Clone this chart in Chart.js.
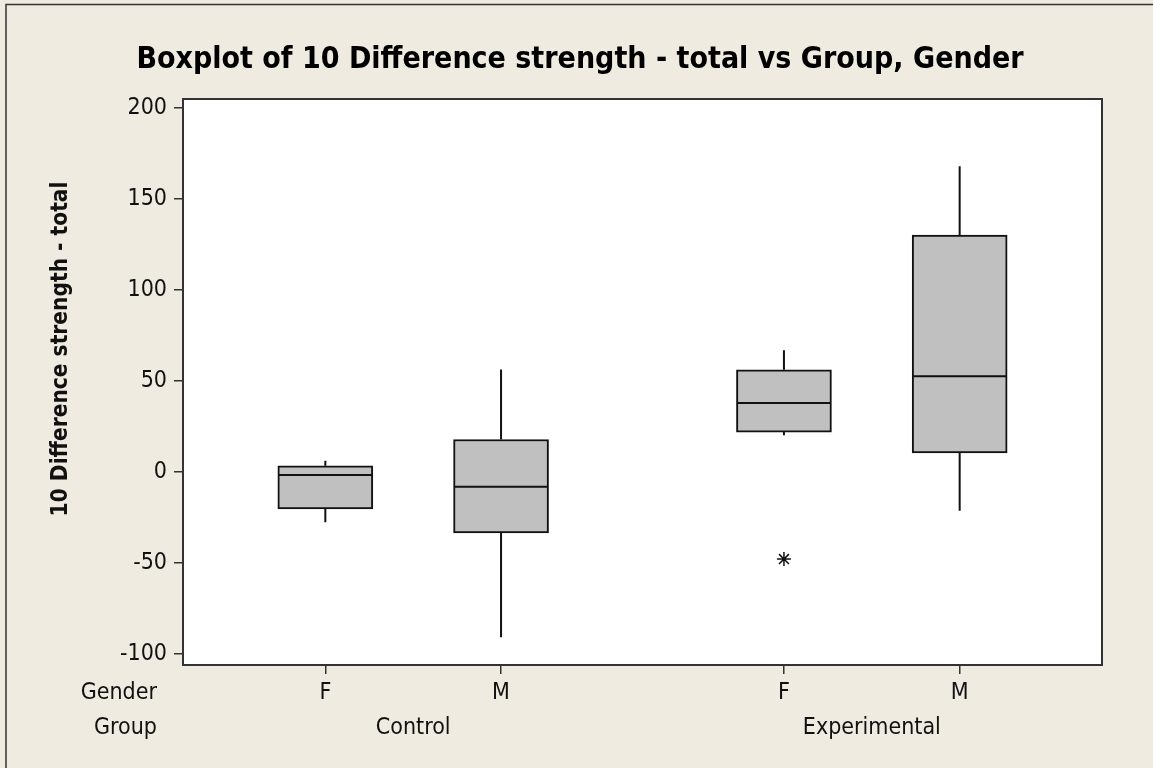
<!DOCTYPE html>
<html>
<head>
<meta charset="utf-8">
<script src="https://cdn.jsdelivr.net/npm/chart.js@4"></script>
<style>
  body { margin: 0; background: #EFEBE1; }
</style>
</head>
<body>
<canvas id="myChart" width="1153" height="768"></canvas>
<script>
// boxplot data
var groups = ['Control', 'Experimental'];
var genders = ['F', 'M'];
var q1 = [-20.2, -33.4, 22.0, 10.6];
var median = [-1.6, -8.1, 37.9, 52.7];
var q3 = [3.5, 17.9, 56.2, 130.2];
var whiskerLow = [-27.5, -90.8, 20.2, -21.3];
var whiskerHigh = [6.2, 56.4, 67.0, 168.1];
var outlierBox = [2];
var outlierValue = [-47.8];
var yTicks = [-100, -50, 0, 50, 100, 150, 200];

var FONT = "'DejaVu Sans Condensed', 'DejaVu Sans', sans-serif";
var INK = '#111';
var groupStep = 2.61;

// x position of box i (gender inside group)
function boxX(i) {
    return 1 + (i % 2) + Math.floor(i / 2) * groupStep;
}
var boxPos = q1.map(function (v, i) { return boxX(i); });
var groupPos = groups.map(function (g, k) { return (boxX(2 * k) + boxX(2 * k + 1)) / 2; });

var boxes = boxPos.map(function (x, i) { return { x: x, y: [q1[i], q3[i]] }; });
var medians = boxPos.map(function (x, i) { return { x: x, y: median[i] }; });
var whiskers = [];
boxPos.forEach(function (x, i) {
    whiskers.push({ x: x, y: q3[i] }, { x: x, y: whiskerHigh[i] }, { x: x, y: null });
    whiskers.push({ x: x, y: q1[i] }, { x: x, y: whiskerLow[i] }, { x: x, y: null });
});
var outliers = outlierBox.map(function (b, i) { return { x: boxPos[b], y: outlierValue[i] }; });

var frame = {
    id: 'frame',
    beforeDraw: function (chart) {
        var c = chart.ctx, a = chart.chartArea;
        c.save();
        c.fillStyle = '#EFEBE1';
        c.fillRect(0, 0, chart.width, chart.height);
        c.strokeStyle = '#333';
        c.lineWidth = 1.5;
        c.beginPath();
        c.moveTo(6, chart.height);
        c.lineTo(6, 4.5);
        c.lineTo(chart.width, 4.5);
        c.stroke();
        c.fillStyle = '#fff';
        c.fillRect(a.left, a.top, a.right - a.left, a.bottom - a.top);
        c.restore();
    },
    afterDraw: function (chart) {
        var c = chart.ctx, a = chart.chartArea;
        c.save();
        c.strokeStyle = '#333';
        c.lineWidth = 2;
        c.strokeRect(a.left, a.top, a.right - a.left, a.bottom - a.top);
        // row names under the axis
        c.fillStyle = INK;
        c.font = '23px ' + FONT;
        c.textAlign = 'right';
        c.textBaseline = 'middle';
        var xs = chart.scales.x, gs = chart.scales.x2;
        c.fillText('Gender', 157, xs.top + 9 + 5 + 23 * 1.2 / 2);
        c.fillText('Group', 157, gs.top + 4 + 23 * 1.2 / 2);
        // y axis title
        c.font = 'bold 22.5px ' + FONT;
        c.textAlign = 'center';
        c.translate(61, 349);
        c.rotate(-Math.PI / 2);
        c.fillText('10 Difference strength - total', 0, 0);
        c.restore();
    }
};

var ctx = document.getElementById('myChart').getContext('2d');
var myChart = new Chart(ctx, {
    type: 'bar',
    data: {
        datasets: [{
            type: 'line',
            data: whiskers,
            borderColor: INK,
            borderWidth: 2,
            pointRadius: 0,
            spanGaps: false,
            order: 3
        }, {
            type: 'bar',
            data: boxes,
            backgroundColor: '#C0C0C0',
            borderColor: INK,
            borderWidth: 2,
            borderSkipped: false,
            barThickness: 95,
            order: 2
        }, {
            type: 'line',
            data: medians,
            showLine: false,
            pointStyle: 'line',
            pointRadius: 47,
            borderColor: INK,
            borderWidth: 2,
            order: 1
        }, {
            type: 'line',
            data: outliers,
            showLine: false,
            pointStyle: 'star',
            pointRadius: 7,
            borderColor: INK,
            borderWidth: 1.5,
            order: 1
        }]
    },
    options: {
        responsive: false,
        animation: false,
        events: [],
        layout: { padding: { left: 58, right: 51, bottom: 0 } },
        plugins: {
            legend: { display: false },
            tooltip: { enabled: false },
            title: {
                display: true,
                text: 'Boxplot of 10 Difference strength - total vs Group, Gender',
                color: '#000',
                font: { size: 30, weight: 'bold', family: FONT },
                padding: { top: 42, bottom: 21 }
            }
        },
        scales: {
            x: {
                type: 'linear',
                offset: false,
                min: 0.19,
                max: 5.42,
                afterBuildTicks: function (s) {
                    s.ticks = boxPos.map(function (v) { return { value: v }; });
                },
                afterFit: function (s) { s.height = 45; },
                ticks: {
                    autoSkip: false,
                    maxRotation: 0,
                    padding: 5,
                    color: INK,
                    font: { size: 23, family: FONT },
                    callback: function (v, i) { return genders[i % 2]; }
                },
                grid: { offset: false, drawOnChartArea: false, color: '#333', lineWidth: 1.5, tickLength: 9 },
                border: { display: false }
            },
            x2: {
                type: 'linear',
                position: 'bottom',
                offset: false,
                min: 0.19,
                max: 5.42,
                afterBuildTicks: function (s) {
                    s.ticks = groupPos.map(function (v) { return { value: v }; });
                },
                afterFit: function (s) { s.height = 58; },
                ticks: {
                    autoSkip: false,
                    maxRotation: 0,
                    padding: 4,
                    color: INK,
                    font: { size: 23, family: FONT },
                    callback: function (v, i) { return groups[i]; }
                },
                grid: { display: false, offset: false, drawTicks: false },
                border: { display: false }
            },
            y: {
                min: -106,
                max: 205,
                afterBuildTicks: function (s) {
                    s.ticks = yTicks.map(function (v) { return { value: v }; });
                },
                afterFit: function (s) { s.width = 125; },
                ticks: {
                    padding: 7,
                    color: INK,
                    font: { size: 23, family: FONT }
                },
                grid: { drawOnChartArea: false, color: '#333', lineWidth: 1.5, tickLength: 9 },
                border: { display: false }
            }
        }
    },
    plugins: [frame]
});
</script>
</body>
</html>
